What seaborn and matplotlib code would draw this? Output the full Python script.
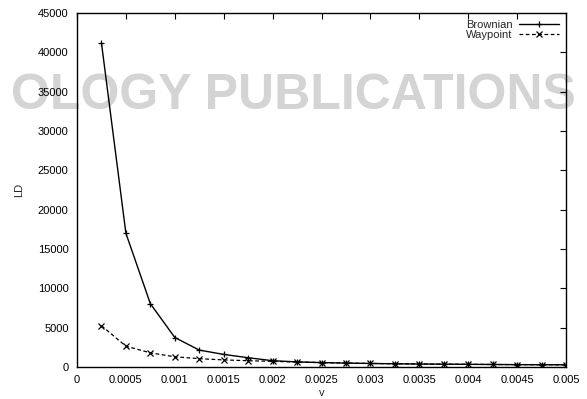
import matplotlib
matplotlib.use("Agg")
import matplotlib.pyplot as plt
import seaborn as sns
import pandas as pd

v = [0.00025, 0.0005, 0.00075, 0.001, 0.00125, 0.0015, 0.00175, 0.002, 0.00225, 0.0025,
     0.00275, 0.003, 0.00325, 0.0035, 0.00375, 0.004, 0.00425, 0.0045, 0.00475, 0.005]
brownian = [41200, 17000, 8050, 3750, 2150, 1600, 1180, 800, 650, 560,
            500, 450, 410, 380, 360, 340, 320, 300, 290, 280]
waypoint = [5250, 2650, 1800, 1300, 1060, 900, 800, 720, 630, 560,
            500, 450, 410, 380, 360, 340, 320, 300, 290, 280]
xticks = [0, 0.0005, 0.001, 0.0015, 0.002, 0.0025, 0.003, 0.0035, 0.004, 0.0045, 0.005]
xticklabels = ["0", "0.0005", "0.001", "0.0015", "0.002", "0.0025", "0.003", "0.0035", "0.004", "0.0045", "0.005"]
yticks = [0, 5000, 10000, 15000, 20000, 25000, 30000, 35000, 40000, 45000]

sns.set_theme(style="white")
plt.rcParams['font.family'] = ['Liberation Sans', 'DejaVu Sans']

df = pd.DataFrame({"v": v + v,
                   "LD": brownian + waypoint,
                   "series": ["Brownian"] * len(v) + ["Waypoint"] * len(v)})

fig = plt.figure(figsize=(5.87, 3.99), dpi=100)
ax = fig.add_axes([77 / 587, 1 - 367 / 399, (566 - 77) / 587, (367 - 13) / 399])

# watermark (behind everything)
fig.text(0.5, 1 - 96 / 399, "OLOGY PUBLICATIONS", ha="center", va="center", fontsize=36,
         color="#d4d4d4", fontweight="bold", zorder=-5)

sns.lineplot(data=df[df.series == "Brownian"], x="v", y="LD", ax=ax, color="black",
             linewidth=1.0, marker="+", markersize=5, markeredgewidth=0.9,
             markeredgecolor="black", label="Brownian")
sns.lineplot(data=df[df.series == "Waypoint"], x="v", y="LD", ax=ax, color="black",
             linewidth=0.9, linestyle=(0, (3, 2)), marker="x", markersize=4.5,
             markeredgewidth=0.9, markeredgecolor="black", label="Waypoint")

ax.patch.set_alpha(0)
ax.set_xlim(0, 0.005)
ax.set_ylim(0, 45000)
ax.set_xticks(xticks)
ax.set_xticklabels(xticklabels)
ax.set_yticks(yticks)
ax.tick_params(direction="in", length=4, width=0.8, top=True, right=True,
               labelsize=8, colors="black", pad=6)
for s in ax.spines.values():
    s.set_color("black")
    s.set_linewidth(1.0)
ax.set_xlabel("v", fontsize=8, labelpad=2)
ax.set_ylabel("LD", fontsize=8, labelpad=10)

leg = ax.legend(loc="upper right", frameon=False, fontsize=8, markerfirst=False,
                handlelength=3.6, handletextpad=0.6, labelspacing=0.05,
                borderaxespad=0.2)

fig.savefig("out.png", dpi=100)
